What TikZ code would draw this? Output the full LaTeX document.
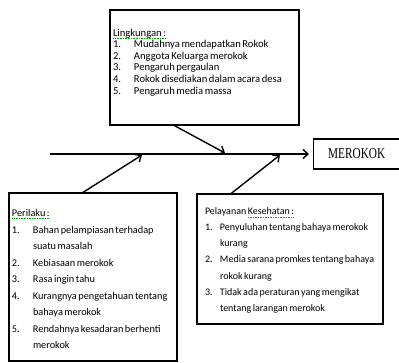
\documentclass[tikz,border=0pt]{standalone}
\usepackage{fontspec}
\setmainfont{Carlito}
\newfontfamily\timesfont{Liberation Serif}
\usetikzlibrary{arrows.meta,positioning,calc}

% list item with hanging number
\newlength{\itmind}
\newcommand{\itm}[2]{\par\hangindent=\itmind\hangafter=1\noindent\makebox[\itmind][l]{#1.}#2}
% green spell-check underline, dotted
\newcommand{\spell}[1]{\leavevmode\setbox0\hbox{#1}%
  \rlap{\color{green!65!black}\raisebox{-2.6pt}{\hbox to\wd0{\xleaders\hbox to 1.6pt{\hss\rule{1pt}{0.7pt}\hss}\hfill}}}\box0}
% text set as in the boxes
\newcommand{\boxfont}[2]{\fontsize{#1}{#2}\selectfont\spaceskip=0.15em plus 0.05em\parskip=0pt
  \raggedright\hyphenpenalty=10000\hbadness=10000\hfuzz=20pt}

\begin{document}
\begin{tikzpicture}[
        x=1pt, y=-1pt,
        >={Straight Barb[length=5pt,width=9pt]},
        line width=1.4pt,
        box/.style={draw, anchor=north west, inner xsep=3pt, inner ysep=0pt, outer sep=0pt, align=left},
        mbox/.style={draw, anchor=west, minimum width=86pt, minimum height=30pt, inner sep=0pt,
          font=\timesfont\fontsize{12}{12}\selectfont},
        link/.style={->}
      ]
      \useasboundingbox (0,0) rectangle (399,363);

      % --- Nodes ---
      \node[box] (lingk) at (110,10) {%
        \parbox[t][115pt][t]{183pt}{\boxfont{10.6}{11.7}\setlength{\itmind}{21pt}%
        \vspace*{19pt}\spell{Lingkungan :}\par\vspace{-0.5pt}
        \itm{1}{Mudahnya mendapatkan Rokok}
        \itm{2}{Anggota Keluarga merokok}
        \itm{3}{Pengaruh pergaulan}
        \itm{4}{Rokok disediakan dalam acara desa}
        \itm{5}{Pengaruh media massa}}};

      \node[mbox] (merokok) at (313,154) {\scalebox{0.94}[1.26]{MEROKOK}};

      \node[box] (perilaku) at (9,193) {%
        \parbox[t][168pt][t]{162pt}{\boxfont{10.3}{16.5}\setlength{\itmind}{21pt}%
        \vspace*{16pt}\spell{Perilaku :}\par\vspace{0.5pt}
        \itm{1}{Bahan pelampiasan terhadap\newline suatu masalah}
        \itm{2}{Kebiasaan merokok}
        \itm{3}{Rasa ingin tahu}
        \itm{4}{Kurangnya pengetahuan tentang\newline bahaya merokok}
        \itm{5}{Rendahnya kesadaran berhenti\newline merokok}}};

      \node[box, inner xsep=8pt] (pelayanan) at (197,194) {%
        \parbox[t][130pt][t]{170pt}{\boxfont{10}{16.3}\setlength{\itmind}{15pt}%
        \vspace*{14pt}Pelayanan \spell{Kesehatan :}\par\vspace{-1pt}
        \itm{1}{Penyuluhan tentang bahaya merokok\newline kurang}
        \itm{2}{Media sarana promkes tentang bahaya\newline rokok kurang}
        \itm{3}{Tidak ada peraturan yang mengikat\newline tentang larangan merokok}}};

      % spine and where the branches meet it
      \coordinate (tail) at (50,154);
      \coordinate (jlingk) at (225,153);
      \coordinate (jperilaku) at (142,155);
      \coordinate (jpelayanan) at (280,155);

      % --- Arrows ---
      \draw[link, shorten >=4pt] (tail) -- (merokok.west);
      \draw[link] ($(lingk.south west)!0.335!(lingk.south east)$) -- (jlingk);
      \draw[link] ($(perilaku.north west)!0.435!(perilaku.north east)$) -- (jperilaku);
      \draw[link] ($(pelayanan.north west)!0.18!(pelayanan.north east)$) -- (jpelayanan);

    \end{tikzpicture}
\end{document}
